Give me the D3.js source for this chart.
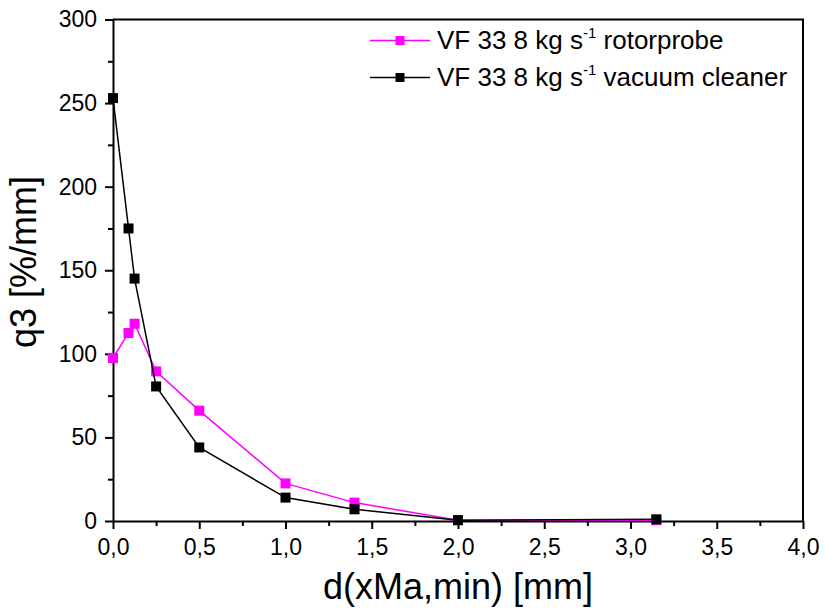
<!DOCTYPE html>
<html>
<head>
<meta charset="utf-8">
<script src="https://cdnjs.cloudflare.com/ajax/libs/d3/7.8.5/d3.min.js"></script>
<style>
  body { margin: 0; background: #fff; }
  svg { font-family: "Liberation Sans", Arial, sans-serif; }
</style>
</head>
<body>
<svg id="chart" width="826" height="609"></svg>
<script>
// data
var xValues = [0, 0.09, 0.125, 0.25, 0.5, 1.0, 1.4, 2.0, 3.15];
var rotorprobe = [97.5, 112.5, 118, 89.5, 66, 22.5, 11, 0.5, 0.5];
var vacuumCleaner = [253, 175, 145, 80.5, 44, 14, 7, 0.5, 1];
var seriesNames = ["rotorprobe", "vacuum cleaner"];
var seriesColors = ["#ff00ff", "#000000"];
var xTicks = [0, 0.5, 1.0, 1.5, 2.0, 2.5, 3.0, 3.5, 4.0];
var yTicks = [0, 50, 100, 150, 200, 250, 300];

var svg = d3.select("#chart"),
    margin = {top: 19.5, right: 23, bottom: 88, left: 113},
    width = +svg.attr("width") - margin.left - margin.right,
    height = +svg.attr("height") - margin.top - margin.bottom,
    g = svg.append("g").attr("transform", "translate(" + margin.left + "," + margin.top + ")");

var x = d3.scaleLinear().domain([0, 4]).range([0, width]);
var y = d3.scaleLinear().domain([0, 300]).range([height, 0]);

var fmt = function(d) { return d3.format(".1f")(d).replace(".", ","); };

// minor ticks
g.append("g")
    .attr("transform", "translate(0," + height + ")")
    .call(d3.axisBottom(x).tickValues(d3.range(0.25, 4, 0.5)).tickSize(5).tickFormat(""))
    .call(function(s) { s.select(".domain").remove(); });
g.append("g")
    .call(d3.axisLeft(y).tickValues(d3.range(25, 300, 50)).tickSize(5).tickFormat(""))
    .call(function(s) { s.select(".domain").remove(); });

var xAxis = g.append("g")
    .attr("transform", "translate(0," + height + ")")
    .call(d3.axisBottom(x).tickValues(xTicks).tickSize(8).tickSizeOuter(0).tickPadding(8).tickFormat(fmt));
var yAxis = g.append("g")
    .call(d3.axisLeft(y).tickValues(yTicks).tickSize(8).tickSizeOuter(0).tickPadding(8));

[xAxis, yAxis].forEach(function(a) {
  a.attr("font-family", null).attr("font-size", null);
  a.selectAll("text").style("font-size", "23px").attr("fill", "#000");
});
xAxis.selectAll("text").attr("dy", "0.78em");
g.selectAll(".tick line, .domain").attr("stroke", "#000").attr("stroke-width", 2);

// frame top & right
g.append("path")
    .attr("d", "M0,0H" + width + "V" + height)
    .attr("fill", "none")
    .attr("stroke", "#000")
    .attr("stroke-width", 2);

var line = d3.line()
    .x(function(d) { return x(d[0]); })
    .y(function(d) { return y(d[1]); });

[rotorprobe, vacuumCleaner].forEach(function(vals, i) {
  var pts = xValues.map(function(xv, j) { return [xv, vals[j]]; });
  g.append("path")
      .datum(pts)
      .attr("fill", "none")
      .attr("stroke", seriesColors[i])
      .attr("stroke-width", 1.5)
      .attr("d", line);
  g.selectAll(".m" + i)
    .data(pts)
    .enter().append("rect")
      .attr("x", function(d) { return x(d[0]) - 5; })
      .attr("y", function(d) { return y(d[1]) - 5; })
      .attr("width", 10)
      .attr("height", 10)
      .attr("fill", seriesColors[i]);
});

// legend
var legend = svg.selectAll(".legend")
    .data(seriesNames)
    .enter().append("g")
      .attr("transform", function(d, i) { return "translate(370," + (40.5 + i * 37) + ")"; });
legend.append("line")
    .attr("x1", 0).attr("x2", 60)
    .attr("stroke", function(d, i) { return seriesColors[i]; })
    .attr("stroke-width", 1.5);
legend.append("rect")
    .attr("x", 25.5).attr("y", -4.5).attr("width", 9).attr("height", 9)
    .attr("fill", function(d, i) { return seriesColors[i]; });
var lt = legend.append("text")
    .attr("x", 67).attr("y", 8)
    .style("font-size", "26px");
lt.append("tspan").text("VF 33 8 kg s");
lt.append("tspan").attr("dy", -11).style("font-size", "15px").text("-1");
lt.append("tspan").attr("dy", 11).text(function(d) { return " " + d; });

// axis titles
svg.append("text")
    .attr("x", margin.left + width / 2)
    .attr("y", 599)
    .attr("text-anchor", "middle")
    .style("font-size", "36px")
    .text("d(xMa,min) [mm]");
svg.append("text")
    .attr("transform", "translate(36,262) rotate(-90)")
    .attr("text-anchor", "middle")
    .style("font-size", "36px")
    .text("q3 [%/mm]");
</script>
</body>
</html>
